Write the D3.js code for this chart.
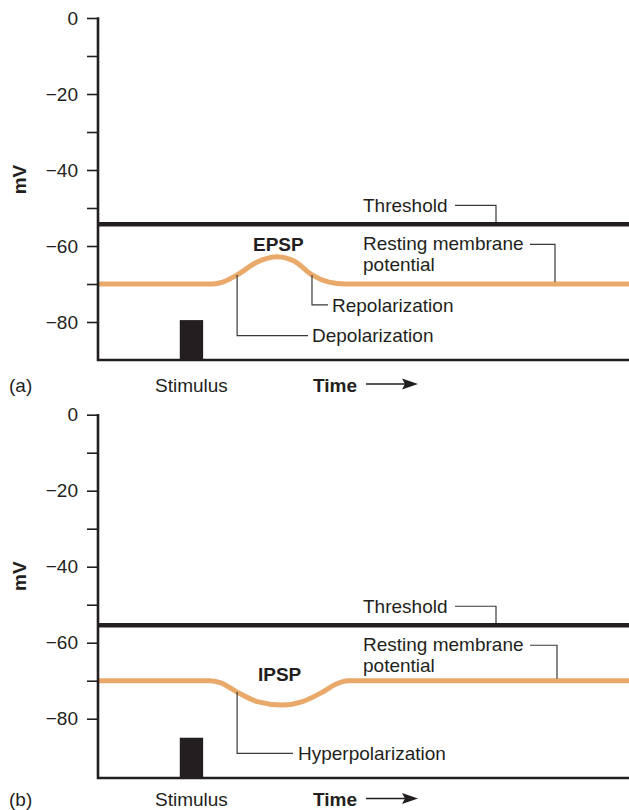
<!DOCTYPE html>
<html>
<head>
<meta charset="utf-8">
<script src="https://cdn.jsdelivr.net/npm/d3@7"></script>
<style>
  html, body { margin: 0; padding: 0; background: #fff; }
  svg { display: block; font-family: "Liberation Sans", Arial, Helvetica, sans-serif; }
</style>
</head>
<body>
<svg id="chart" width="629" height="810"></svg>
<script>
// ---------- data ----------
const yTicksMajor = [0, -20, -40, -60, -80];
const yTicksAll = [0, -10, -20, -30, -40, -50, -60, -70, -80];
const panelLabels = ["(a)", "(b)"];
const psLabels = ["EPSP", "IPSP"];
const thresholdValues = [-54.3, -55.4];
const restingValue = -70;
const stimulusStart = 15.4, stimulusEnd = 19.8;
const stimulusTop = [-79.5, -85];

// EPSP trace (time units 0–100, mV)
const epspTime  = [0, 21.5, 23.5, 26.2, 30, 33.7, 37, 40.3, 43.5, 46.5, 100];
const epspValue = [-70, -70, -69.5, -67.6, -64.2, -62.8, -64.0, -67.6, -69.5, -70, -70];
// IPSP trace
const ipspTime  = [0, 21, 23, 26.2, 30, 34.7, 38.5, 42, 45, 47, 100];
const ipspValue = [-70, -70, -70.5, -73.0, -75.5, -76.4, -75.5, -73.2, -70.8, -70, -70];

// ---------- layout ----------
const svg = d3.select("#chart");
const x = d3.scaleLinear().domain([0, 100]).range([98, 629]);
const panels = [
  { y: d3.scaleLinear().domain([-90, 0]).range([360, 18]), time: epspTime, val: epspValue, labOff: 25 },
  { y: d3.scaleLinear().domain([-95.6, 0]).range([778, 414.7]), time: ipspTime, val: ipspValue, labOff: 21.5 }
];
const ink = "#231f20";
const orange = "#e9a96a";
const fs = "19px";

function txt(g, xx, yy, s, opts = {}) {
  return g.append("text").attr("x", xx).attr("y", yy).attr("dy", "0.35em")
    .attr("font-size", fs).attr("fill", ink)
    .attr("font-weight", opts.bold ? "bold" : "normal")
    .attr("text-anchor", opts.anchor || "start")
    .text(s);
}

panels.forEach((p, i) => {
  const g = svg.append("g");
  const y = p.y;
  const [yBot, yTop] = y.range();

  // threshold line
  g.append("line").attr("x1", x(0)).attr("x2", x(100))
    .attr("y1", y(thresholdValues[i])).attr("y2", y(thresholdValues[i]))
    .attr("stroke", ink).attr("stroke-width", 4.5);

  // stimulus bar
  g.append("rect").attr("x", x(stimulusStart)).attr("width", x(stimulusEnd) - x(stimulusStart))
    .attr("y", y(stimulusTop[i])).attr("height", yBot - y(stimulusTop[i]))
    .attr("fill", ink);

  // trace
  const pts = p.time.map((t, k) => [t, p.val[k]]);
  g.append("path").datum(pts)
    .attr("d", d3.line().x(d => x(d[0])).y(d => y(d[1])).curve(d3.curveMonotoneX))
    .attr("fill", "none").attr("stroke", orange).attr("stroke-width", 5);

  // y axis
  const ax = d3.axisLeft(y).tickValues(yTicksAll).tickSize(11).tickPadding(9)
    .tickFormat(d => yTicksMajor.includes(d) ? (d === 0 ? "0" : "\u2212" + Math.abs(d)) : "");
  const axG = g.append("g").attr("transform", `translate(${x(0)},0)`).call(ax);
  axG.select(".domain").remove();
  axG.selectAll(".tick line").attr("stroke", ink).attr("stroke-width", 1.6);
  axG.selectAll(".tick text").attr("font-size", fs).attr("fill", ink)
    .attr("font-family", "Liberation Sans, Arial, sans-serif");

  // axis lines
  g.append("path").attr("d", `M${x(0)},${yTop - 0.8}V${yBot}H${x(100)}`)
    .attr("fill", "none").attr("stroke", ink).attr("stroke-width", 2.6);

  // mV label
  const midY = y(-42.5);
  g.append("text").attr("transform", `translate(19,${midY}) rotate(-90)`)
    .attr("dy", "0.35em").attr("text-anchor", "middle")
    .attr("font-size", fs).attr("font-weight", "bold").attr("fill", ink).text("mV");

  // bottom labels
  const labY = yBot + p.labOff;
  txt(g, 9, labY, panelLabels[i]);
  txt(g, (x(stimulusStart) + x(stimulusEnd)) / 2, labY, "Stimulus", { anchor: "middle" });
  txt(g, 313, labY, "Time", { bold: true });
  g.append("line").attr("x1", 366).attr("x2", 406).attr("y1", labY - 1).attr("y2", labY - 1)
    .attr("stroke", ink).attr("stroke-width", 1.6);
  g.append("path").attr("d", `M418,${labY - 1}L402,${labY - 6.5}L405,${labY - 1}L402,${labY + 4.5}Z`)
    .attr("fill", ink);

  // leaders
  const leader = (d) => g.append("path").attr("d", d).attr("fill", "none")
    .attr("stroke", "#3a3a3a").attr("stroke-width", 1.2);

  const thY = y(thresholdValues[i]);
  const thLabY = thY - 19;
  txt(g, 363, thLabY, "Threshold");
  leader(`M455,${thLabY}H496V${thY - 2}`);

  const restY = y(restingValue);
  const rmY = thY + 19;
  txt(g, 363, rmY, "Resting membrane");
  txt(g, 363, rmY + 21, "potential");
  leader(`M530,${rmY + 1}H${i === 0 ? 555 : 557}V${restY - 2}`);

  if (i === 0) {
    txt(g, 253, y(-59.5), psLabels[0], { bold: true });
    // Repolarization
    const rx = x(40.3), ry = y(-67.6);
    leader(`M${rx},${ry}V${y(-75.5)}H328`);
    txt(g, 332, y(-75.5), "Repolarization");
    // Depolarization
    const dx = x(26.2), dy = y(-67.6);
    leader(`M${dx},${dy}V${y(-83.6)}H308`);
    txt(g, 312, y(-83.6), "Depolarization");
  } else {
    txt(g, 258, y(-68.2), psLabels[1], { bold: true });
    const hx = x(26.2), hy = y(-73.0);
    leader(`M${hx},${hy}V${y(-89.1)}H293`);
    txt(g, 298, y(-89.1), "Hyperpolarization");
  }
});
</script>
</body>
</html>
